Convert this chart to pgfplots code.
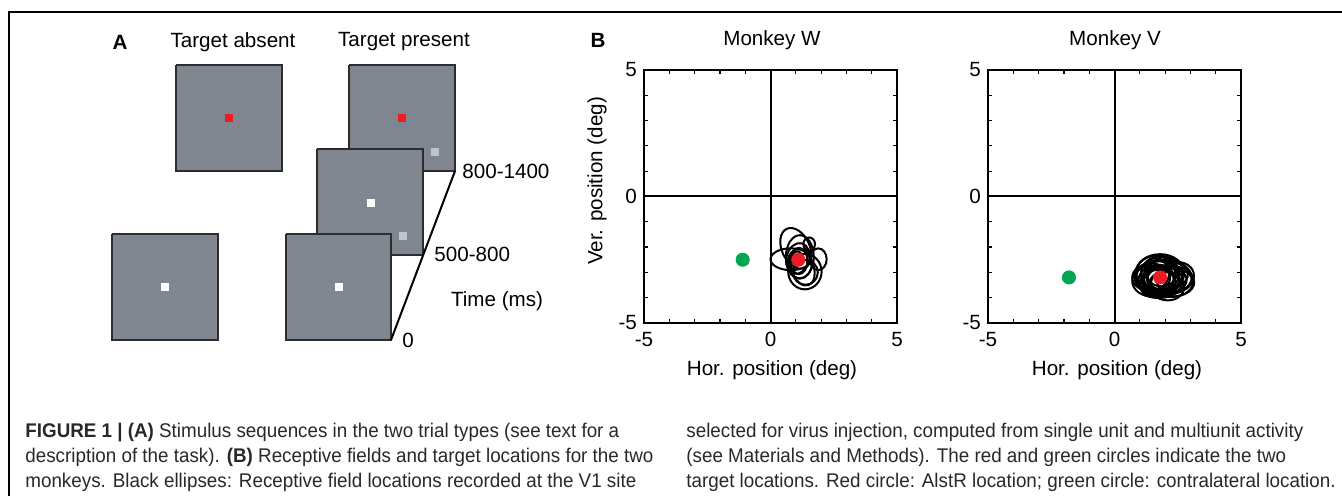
\documentclass[border=0pt]{standalone}
\usepackage{pgfplots}
\pgfplotsset{compat=1.18}
\usepackage{pgfplotstable}
\usepackage{fontspec}
\setmainfont{Liberation Sans}
\newfontfamily\capfont{Liberation Sans}[FakeStretch=0.95]
\definecolor{noisegray}{RGB}{127,134,143}
\definecolor{sqedge}{RGB}{45,45,45}
\definecolor{dotred}{RGB}{237,28,36}
\definecolor{dotgreen}{RGB}{0,166,80}
\definecolor{targetgray}{RGB}{192,197,203}
\definecolor{captext}{RGB}{40,40,40}

% receptive field ellipses (deg): centre x, centre y, radius x, radius y, rotation
\pgfplotstableread{
cx cy rx ry ang
0.80 -2.48 0.80 0.43 0
1.00 -2.05 0.55 0.85 25
1.16 -2.38 0.55 0.85 0
1.53 -1.88 0.23 0.26 0
1.89 -2.48 0.33 0.43 0
1.36 -2.97 0.66 0.70 0
1.38 -3.00 0.49 0.49 0
1.12 -2.55 0.34 0.52 0
1.15 -2.65 0.48 0.60 0
1.05 -2.45 0.22 0.28 0
1.25 -2.80 0.45 0.75 20
1.08 -2.45 0.45 0.62 -15
}\ellW
\pgfplotstableread{
cx cy rx ry ang
1.75 -3.20 0.95 0.65 0
1.85 -3.15 1.05 0.60 5
1.70 -3.25 0.85 0.70 -10
1.95 -3.30 0.90 0.55 0
1.60 -3.10 0.80 0.75 15
2.10 -3.35 1.00 0.62 -5
1.80 -3.05 0.75 0.68 0
1.90 -3.40 0.80 0.60 10
1.65 -3.30 0.70 0.55 0
2.20 -3.25 0.90 0.50 0
1.75 -3.20 0.60 0.50 0
1.85 -3.25 0.55 0.45 -20
2.00 -3.10 0.75 0.70 20
1.55 -3.35 0.85 0.62 0
1.80 -3.00 0.95 0.72 0
2.30 -3.40 0.85 0.55 0
1.70 -3.45 0.70 0.55 10
1.95 -3.20 1.10 0.70 0
1.60 -3.05 0.55 0.60 0
2.05 -3.55 0.70 0.55 -10
1.85 -2.95 0.65 0.60 0
1.45 -3.20 0.75 0.55 0
2.40 -3.20 0.75 0.60 15
}\ellV

% one ellipse mark per table row (1 deg = 12.65pt on these axes)
\newcommand\drawellipses[2]{%
  \pgfplotsinvokeforeach{0,...,#2}{%
    \pgfplotstablegetelem{##1}{cx}\of#1\let\ecx\pgfplotsretval
    \pgfplotstablegetelem{##1}{cy}\of#1\let\ecy\pgfplotsretval
    \pgfplotstablegetelem{##1}{rx}\of#1\let\erx\pgfplotsretval
    \pgfplotstablegetelem{##1}{ry}\of#1\let\ery\pgfplotsretval
    \pgfplotstablegetelem{##1}{ang}\of#1\let\eang\pgfplotsretval
    \pgfmathsetmacro\emsz{\ery*12.65}%
    \pgfmathsetmacro\exs{\erx/\ery}%
    \edef\tmp{\noexpand\addplot[only marks, mark=o, mark size=\emsz pt, black,
      mark options={line width=1pt, rotate=\eang, xscale=\exs}] coordinates {(\ecx,\ecy)};}%
    \tmp
  }%
}

\tikzset{
  lab/.style={font=\fontsize{10.3}{12.4}\selectfont},
  labb/.style={font=\fontsize{10.3}{12.4}\selectfont\bfseries},
}
\pgfplotsset{
  rfaxis/.style={
    scale only axis, width=126.5pt, height=126.5pt,
    xmin=-5, xmax=5, ymin=-5, ymax=5,
    xtick={-5,0,5}, ytick={-5,0,5},
    xticklabels={-5,0,5}, yticklabels={-5,0,5},
    minor xtick={-4,-3,-2,-1,1,2,3,4},
    minor ytick={-4,-3,-2,-1,1,2,3,4},
    tick align=inside, major tick length=2pt, minor tick length=2pt,
    every tick/.style={black, line width=0.6pt},
    axis line style={black, line width=1pt},
    ticklabel style={font=\fontsize{10.3}{12}\selectfont},
    xticklabel style={yshift=-1pt},
  },
}

\begin{document}
\begin{tikzpicture}
\useasboundingbox (0pt,0pt) rectangle (671pt,-248pt);
% ---------- whole-figure layer (pixel coordinates) ----------
\begin{axis}[
  at={(0pt,0pt)}, anchor=north west,
  scale only axis, width=671pt, height=248pt,
  xmin=0, xmax=1342, ymin=0, ymax=496, y dir=reverse,
  hide axis, clip=false,
]
% frame
\addplot[black, line width=1pt] coordinates {(1342,12) (9,12) (9,496)};
% target absent
\addplot[fill=noisegray, draw=sqedge, line width=0.6pt] coordinates {(176,65) (282,65) (282,171) (176,171) (176,65)};
\addplot[fill=noisegray, draw=sqedge, line width=0.6pt] coordinates {(112,234) (218,234) (218,340) (112,340) (112,234)};
% target present (back to front)
\addplot[fill=noisegray, draw=sqedge, line width=0.6pt] coordinates {(349,65) (455,65) (455,171) (349,171) (349,65)};
\addplot[only marks, mark=square*, mark size=1.6pt, color=targetgray] coordinates {(435,152)};
\addplot[fill=noisegray, draw=sqedge, line width=0.6pt] coordinates {(317,149) (423,149) (423,255) (317,255) (317,149)};
\addplot[only marks, mark=square*, mark size=1.6pt, color=targetgray] coordinates {(403,236)};
\addplot[fill=noisegray, draw=sqedge, line width=0.6pt] coordinates {(286,234) (391,234) (391,340) (286,340) (286,234)};
% fixation points
\addplot[only marks, mark=square*, mark size=1.6pt, color=dotred] coordinates {(229,118) (402,118)};
\addplot[only marks, mark=square*, mark size=1.6pt, color=white] coordinates {(165,287) (371,203) (339,287)};
% time line
\addplot[black, line width=1pt] coordinates {(391,340) (455,171)};
% texts panel A
\node[labb] at (axis cs:120,42) {A};
\node[lab] at (axis cs:233,42) {Target absent};
\node[lab] at (axis cs:404,42) {Target present};
\node[lab, anchor=west, inner sep=0pt] at (axis cs:462,171) {800-1400};
\node[lab, anchor=west, inner sep=0pt] at (axis cs:434,254) {500-800};
\node[lab] at (axis cs:497,301) {Time (ms)};
\node[lab, anchor=west, inner sep=0pt] at (axis cs:402,340) {0};
% texts panel B
\node[labb] at (axis cs:598,40) {B};
\node[lab] at (axis cs:772,40) {Monkey W};
\node[lab] at (axis cs:1115,40) {Monkey V};
\node[lab, rotate=90] at (axis cs:597,181) {Ver. position (deg)};
\node[lab] at (axis cs:772,370) {Hor. position (deg)};
\node[lab] at (axis cs:1117,370) {Hor. position (deg)};
% caption
\begin{scope}[every node/.style={anchor=base west, inner sep=0pt, text=captext, font=\capfont\fontsize{9.9}{11}\selectfont}]
\node at (axis cs:25,437) {\textbf{FIGURE 1 | (A)} Stimulus sequences in the two trial types (see text for a};
\node at (axis cs:25,462) {description of the task). \textbf{(B)} Receptive fields and target locations for the two};
\node at (axis cs:25,487) {monkeys. Black ellipses: Receptive field locations recorded at the V1 site};
\node at (axis cs:686,437) {selected for virus injection, computed from single unit and multiunit activity};
\node at (axis cs:686,462) {(see Materials and Methods). The red and green circles indicate the two};
\node at (axis cs:686,487) {target locations. Red circle: AlstR location; green circle: contralateral location.};
\end{scope}
\end{axis}

% ---------- Monkey W ----------
\begin{axis}[rfaxis, at={(322pt,-35pt)}, anchor=north west]
\addplot[black, line width=1pt] coordinates {(-5,0) (5,0)};
\addplot[black, line width=1pt] coordinates {(0,-5) (0,5)};
\drawellipses{\ellW}{11}
\addplot[only marks, mark=*, mark size=3.3pt, color=dotgreen] coordinates {(-1.1,-2.5)};
\addplot[only marks, mark=*, mark size=3.3pt, color=dotred] coordinates {(1.1,-2.5)};
\end{axis}

% ---------- Monkey V ----------
\begin{axis}[rfaxis, at={(494pt,-35pt)}, anchor=north west]
\addplot[black, line width=1pt] coordinates {(-5,0) (5,0)};
\addplot[black, line width=1pt] coordinates {(0,-5) (0,5)};
\drawellipses{\ellV}{22}
\addplot[only marks, mark=*, mark size=3.3pt, color=dotgreen] coordinates {(-1.8,-3.2)};
\addplot[only marks, mark=*, mark size=3.3pt, color=dotred] coordinates {(1.8,-3.2)};
\end{axis}
\end{tikzpicture}
\end{document}
